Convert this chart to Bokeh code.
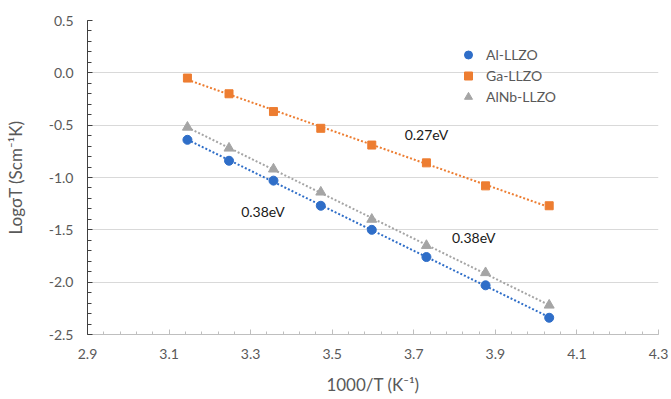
import numpy as np
from bokeh.plotting import figure
from bokeh.models import (Range1d, FixedTicker, PrintfTickFormatter,
                          Legend, LegendItem, ColumnDataSource)
from bokeh.core.properties import value
from bokeh.embed import file_html
from bokeh.resources import INLINE

# ---- data ----
inv_t = [3.145, 3.247, 3.356, 3.472, 3.597, 3.731, 3.876, 4.032]
al_llzo = [-0.64, -0.84, -1.03, -1.27, -1.50, -1.76, -2.03, -2.34]
ga_llzo = [-0.05, -0.20, -0.37, -0.53, -0.69, -0.86, -1.08, -1.27]
alnb_llzo = [-0.52, -0.72, -0.92, -1.14, -1.40, -1.65, -1.91, -2.22]

ann_text = ["0.27eV", "0.38eV", "0.38eV"]
ann_x = [3.731, 3.330, 3.847]
ann_y = [-0.587, -1.323, -1.569]

x_ticks = [2.9, 3.1, 3.3, 3.5, 3.7, 3.9, 4.1, 4.3]
y_ticks = [0.5, 0.0, -0.5, -1.0, -1.5, -2.0, -2.5]

FONT = "Lato"
GRAY_TXT = "#595959"

p = figure(width=670, height=397, output_backend="svg", toolbar_location=None,
           min_border_left=87, min_border_right=12, min_border_top=20,
           min_border_bottom=63,
           x_range=Range1d(2.9, 4.3), y_range=Range1d(-2.5, 0.5))
p.outline_line_color = None
p.background_fill_color = "white"

# axes
xminor = [round(2.9 + 0.04 * i, 2) for i in range(36)]
p.xaxis.ticker = FixedTicker(ticks=x_ticks, minor_ticks=xminor)
p.xaxis.formatter = PrintfTickFormatter(format="%.1f")
p.xaxis.axis_line_color = "#bfbfbf"
p.xaxis.major_tick_line_color = "#bfbfbf"
p.xaxis.minor_tick_line_color = "#bfbfbf"
p.xaxis.major_tick_in = 5
p.xaxis.major_tick_out = 0
p.xaxis.minor_tick_in = 3
p.xaxis.minor_tick_out = 0
p.xaxis.major_label_standoff = 14
p.xaxis.major_label_text_font = FONT
p.xaxis.major_label_text_font_size = "14px"
p.xaxis.major_label_text_color = GRAY_TXT
p.xaxis.axis_label = "1000/T (K⁻¹)"
p.xaxis.axis_label_standoff = 12
p.xaxis.axis_label_text_font = FONT
p.xaxis.axis_label_text_font_size = "17px"
p.xaxis.axis_label_text_font_style = "normal"
p.xaxis.axis_label_text_color = GRAY_TXT

yminor = [round(-2.5 + 0.1 * i, 1) for i in range(31)]
p.yaxis.ticker = FixedTicker(ticks=y_ticks, minor_ticks=yminor)
p.yaxis.formatter = PrintfTickFormatter(format="%.1f")
p.yaxis.axis_line_color = "#404040"
p.yaxis.major_tick_line_color = "#404040"
p.yaxis.minor_tick_line_color = "#404040"
p.yaxis.major_tick_in = 5
p.yaxis.major_tick_out = 0
p.yaxis.minor_tick_in = 4
p.yaxis.minor_tick_out = 0
p.yaxis.major_label_standoff = 14
p.yaxis.major_label_text_font = FONT
p.yaxis.major_label_text_font_size = "14px"
p.yaxis.major_label_text_color = GRAY_TXT
p.yaxis.axis_label = "LogσT (Scm⁻¹K)"
p.yaxis.axis_label_standoff = 20
p.yaxis.axis_label_text_font = FONT
p.yaxis.axis_label_text_font_size = "17px"
p.yaxis.axis_label_text_font_style = "normal"
p.yaxis.axis_label_text_color = GRAY_TXT

p.xgrid.grid_line_color = None
p.ygrid.grid_line_color = "#d9d9d9"
p.ygrid.grid_line_width = 1

# series
series = [
    ("Al-LLZO", al_llzo, "#2f6ec8", "circle", 9),
    ("Ga-LLZO", ga_llzo, "#ed7d31", "square", 8),
    ("AlNb-LLZO", alnb_llzo, "#a5a5a5", "triangle", 10),
]
items = []
xs = np.array(inv_t)
for name, ys, color, marker, size in series:
    k, b = np.polyfit(xs, np.array(ys), 1)
    fx = [xs.min(), xs.max()]
    p.line(fx, [k * v + b for v in fx], line_color=color, line_width=2,
           line_dash="2 2")
for name, ys, color, marker, size in series:
    r = p.scatter(inv_t, ys, marker=marker, size=size, fill_color=color,
                  line_color=color)
    items.append(LegendItem(label=name, renderers=[r]))

legend = Legend(items=items, location=(371, 227), label_text_font=FONT,
                label_text_font_size="14px", label_text_color=GRAY_TXT,
                glyph_width=20, glyph_height=21, label_height=21, spacing=0,
                padding=5, label_standoff=8, background_fill_alpha=0,
                border_line_color=None, margin=0)
p.add_layout(legend, "center")

# annotations
src = ColumnDataSource(dict(x=ann_x, y=ann_y, t=ann_text))
p.text(x="x", y="y", text="t", source=src, text_font=value(FONT),
       text_font_size="14px", text_color="#1a1a1a", text_align="center",
       text_baseline="middle")

open("out.html", "w").write(file_html(p, INLINE))
